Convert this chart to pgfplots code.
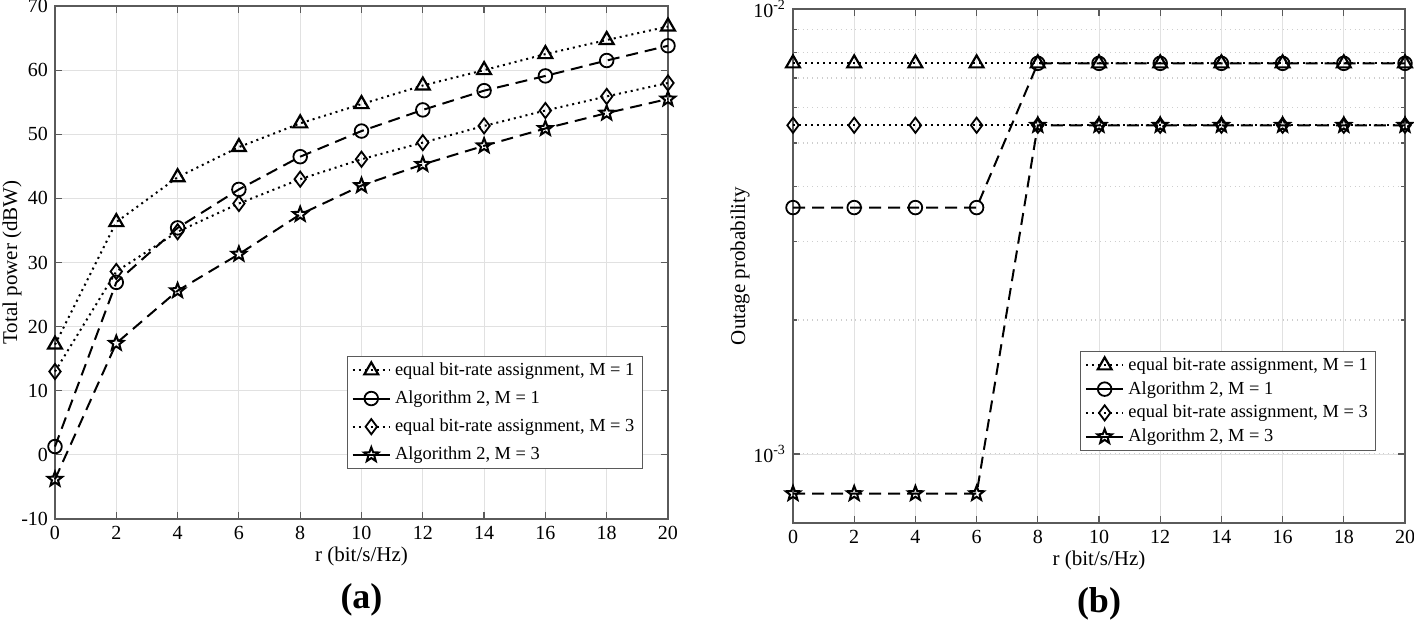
\documentclass[border=0pt]{standalone}
\usepackage{pgfplots}
\pgfplotsset{compat=1.18}
\usepackage{fontspec}
\setmainfont{Liberation Serif}

% outline five-point star (MATLAB pentagram)
\pgfdeclareplotmark{pentagram}{%
  \pgfpathmoveto{\pgfpointpolar{90}{\pgfplotmarksize}}%
  \pgfpathlineto{\pgfpointpolar{126}{0.42\pgfplotmarksize}}%
  \pgfpathlineto{\pgfpointpolar{162}{\pgfplotmarksize}}%
  \pgfpathlineto{\pgfpointpolar{198}{0.42\pgfplotmarksize}}%
  \pgfpathlineto{\pgfpointpolar{234}{\pgfplotmarksize}}%
  \pgfpathlineto{\pgfpointpolar{270}{0.42\pgfplotmarksize}}%
  \pgfpathlineto{\pgfpointpolar{306}{\pgfplotmarksize}}%
  \pgfpathlineto{\pgfpointpolar{342}{0.42\pgfplotmarksize}}%
  \pgfpathlineto{\pgfpointpolar{18}{\pgfplotmarksize}}%
  \pgfpathlineto{\pgfpointpolar{54}{0.42\pgfplotmarksize}}%
  \pgfpathclose
  \pgfusepathqstroke
}

\definecolor{spine}{RGB}{90,90,90}
\definecolor{gridc}{RGB}{225,225,225}

\pgfplotsset{
  panel/.style={
    scale only axis,
    xmin=0, xmax=20, xtick={0,2,...,20},
    grid=major, major grid style={gridc, line width=0.5pt},
    axis line style={spine, line width=0.6pt},
    tick style={spine, line width=0.6pt},
    tick align=inside, major tick length=3.5pt, minor tick length=2pt,
    ticklabel style={font=\fontsize{10}{12}\selectfont},
    /pgf/number format/assume math mode=true,
    xlabel={r (bit/s/Hz)}, xlabel shift=-3pt,
    label style={font=\fontsize{10.5}{12}\selectfont},
    legend cell align=left,
    legend style={draw=spine, line width=0.5pt, fill=white,
      font=\fontsize{9.2}{11}\selectfont, inner xsep=2pt, inner ysep=1pt},
    legend image code/.code={
      \draw[mark repeat=2,mark phase=2,##1] plot coordinates {(0cm,0cm) (0.33cm,0cm) (0.66cm,0cm)};},
    clip=false,
  },
  solidleg/.style={legend image code/.code={
      \draw[mark repeat=2,mark phase=2,##1,solid] plot coordinates {(0cm,0cm) (0.33cm,0cm) (0.66cm,0cm)};}},
  eqA/.style={black, line width=1pt, dotted, mark=triangle, mark size=4pt,
    mark options={solid, line width=1.1pt}},
  alA/.style={black, line width=1pt, dash pattern=on 6pt off 3.5pt, mark=o, mark size=3.4pt,
    mark options={solid, line width=0.9pt}, solidleg},
  eqB/.style={black, line width=1pt, dotted, mark=diamond, mark size=3.8pt,
    mark options={solid, line width=0.9pt}},
  alB/.style={black, line width=1pt, dash pattern=on 6pt off 3.5pt, mark=pentagram, mark size=3.8pt,
    mark options={solid, line width=1pt}, solidleg},
}

\begin{document}
\begin{tikzpicture}
\path[use as bounding box] (-27.5pt,-51.5pt) rectangle (679.5pt,259.5pt);

% (a) total power
\begin{axis}[panel, at={(0pt,0pt)}, anchor=south west,
  width=306.5pt, height=256.5pt,
  ymin=-10, ymax=70, ytick={-10,0,...,70},
  ylabel={Total power (dBW)}, ylabel shift=-7pt,
  legend style={at={(0.959,0.097)}, anchor=south east,
    row sep=2.2pt},
  ]
\addplot[eqA] coordinates {(0,17.2)(2,36.3)(4,43.3)(6,48.0)(8,51.7)(10,54.7)(12,57.6)(14,60.0)(16,62.5)(18,64.7)(20,66.8)};
\addplot[alA] coordinates {(0,1.3)(2,26.9)(4,35.4)(6,41.4)(8,46.5)(10,50.5)(12,53.8)(14,56.8)(16,59.1)(18,61.5)(20,63.8)};
\addplot[eqB] coordinates {(0,13.0)(2,28.6)(4,34.8)(6,39.2)(8,43.0)(10,46.1)(12,48.7)(14,51.3)(16,53.7)(18,55.9)(20,58.0)};
\addplot[alB] coordinates {(0,-3.8)(2,17.4)(4,25.6)(6,31.3)(8,37.5)(10,42.0)(12,45.3)(14,48.2)(16,50.9)(18,53.3)(20,55.5)};
\legend{equal bit-rate assignment{,} M = 1, Algorithm 2{,} M = 1, equal bit-rate assignment{,} M = 3, Algorithm 2{,} M = 3}
\node[font=\fontsize{18}{20}\selectfont\bfseries] at ([yshift=-40.5pt]rel axis cs:0.5,0) {(a)};
\end{axis}

% (b) outage probability
\begin{axis}[panel, at={(369pt,-2pt)}, anchor=south west,
  width=306pt, height=257pt,
  ymode=log, ymin=7e-4, ymax=1e-2,
  ytick={1e-3,1e-2}, yticklabels={10\textsuperscript{-3},10\textsuperscript{-2}},
  yminorgrids=true, minor grid style={gridc!80!gray, dotted, line width=0.6pt},
  ylabel={Outage probability}, ylabel shift=-5pt,
  legend style={at={(0.953,0.14)}, anchor=south east, row sep=0pt},
  ]
\addplot[eqA] coordinates {(0,7.55e-3)(2,7.55e-3)(4,7.55e-3)(6,7.55e-3)(8,7.55e-3)(10,7.55e-3)(12,7.55e-3)(14,7.55e-3)(16,7.55e-3)(18,7.55e-3)(20,7.55e-3)};
\addplot[alA] coordinates {(0,3.58e-3)(2,3.58e-3)(4,3.58e-3)(6,3.58e-3)(8,7.55e-3)(10,7.55e-3)(12,7.55e-3)(14,7.55e-3)(16,7.55e-3)(18,7.55e-3)(20,7.55e-3)};
\addplot[eqB] coordinates {(0,5.48e-3)(2,5.48e-3)(4,5.48e-3)(6,5.48e-3)(8,5.48e-3)(10,5.48e-3)(12,5.48e-3)(14,5.48e-3)(16,5.48e-3)(18,5.48e-3)(20,5.48e-3)};
\addplot[alB] coordinates {(0,8.15e-4)(2,8.15e-4)(4,8.15e-4)(6,8.15e-4)(8,5.48e-3)(10,5.48e-3)(12,5.48e-3)(14,5.48e-3)(16,5.48e-3)(18,5.48e-3)(20,5.48e-3)};
\legend{equal bit-rate assignment{,} M = 1, Algorithm 2{,} M = 1, equal bit-rate assignment{,} M = 3, Algorithm 2{,} M = 3}
\node[font=\fontsize{18}{20}\selectfont\bfseries] at ([yshift=-40.5pt]rel axis cs:0.5,0) {(b)};
\end{axis}
\end{tikzpicture}
\end{document}
